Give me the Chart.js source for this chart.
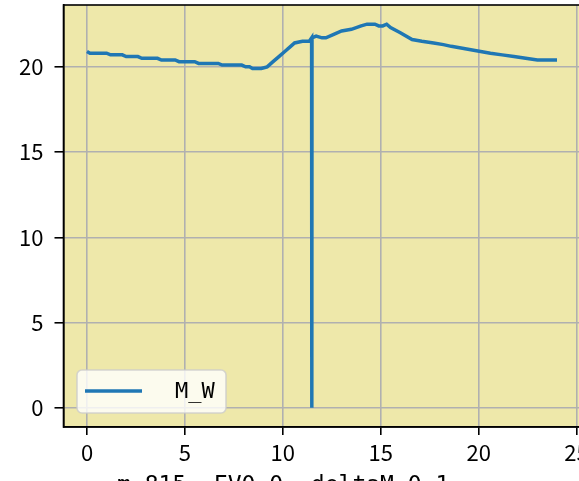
<!DOCTYPE html>
<html>
<head>
<meta charset="utf-8">
<script src="https://cdn.jsdelivr.net/npm/chart.js@4.4.0/dist/chart.umd.min.js"></script>
<style>
html,body{margin:0;padding:0;background:#fff;overflow:hidden;width:579px;height:481px;}
canvas{display:block;}
</style>
</head>
<body>
<canvas id="c" width="584" height="500"></canvas>
<script>
// Data
const hours = [0, 0.15, 1.0, 1.2, 1.8, 2.0, 2.6, 2.8, 3.6, 3.8,
  4.5, 4.7, 5.5, 5.7, 6.7, 6.9, 7.9, 8.1, 8.3, 8.45,
  8.9, 9.2, 9.5, 9.8, 10.1, 10.4, 10.6, 11.0, 11.35, 11.47,
  11.48, 11.49, 11.7, 12.0, 12.2, 12.6, 13.0, 13.5, 14.0, 14.3,
  14.7, 14.9, 15.1, 15.3, 15.5, 16.0, 16.6, 17.1, 17.7, 18.2,
  18.6, 19.1, 19.6, 20.1, 20.6, 21.2, 21.8, 22.4, 23.0, 24.0];
const mwValues = [20.9, 20.8, 20.8, 20.7, 20.7, 20.6, 20.6, 20.5, 20.5, 20.4,
  20.4, 20.3, 20.3, 20.2, 20.2, 20.1, 20.1, 20.0, 20.0, 19.9,
  19.9, 20.0, 20.3, 20.6, 20.9, 21.2, 21.4, 21.5, 21.5, 21.7,
  0, 21.7, 21.8, 21.7, 21.7, 21.9, 22.1, 22.2, 22.4, 22.5,
  22.5, 22.4, 22.4, 22.5, 22.3, 22.0, 21.6, 21.5, 21.4, 21.3,
  21.2, 21.1, 21.0, 20.9, 20.8, 20.7, 20.6, 20.5, 20.4, 20.4];
const xTicks = [0, 5, 10, 15, 20, 25];
const yTicks = [0, 5, 10, 15, 20];
const seriesLabel = 'M_W';
const xTitle = 'm=815, EV0=0, deltaM=0.1';

const FONT = '"Noto Sans CJK JP", "DejaVu Sans", sans-serif';
const MONO = '"DejaVu Sans Mono", monospace';

const bgPlugin = {
  id: 'bg',
  beforeDraw(chart) {
    const {ctx, chartArea: a} = chart;
    ctx.save();
    ctx.fillStyle = '#ffffff';
    ctx.fillRect(0, 0, chart.width, chart.height);
    ctx.fillStyle = '#eee8aa';
    ctx.fillRect(a.left, a.top, a.right - a.left, a.bottom - a.top);
    ctx.restore();
  },
  afterDraw(chart) {
    const {ctx, chartArea: a} = chart;
    ctx.save();
    ctx.strokeStyle = '#000';
    ctx.lineWidth = 1.6;
    ctx.strokeRect(a.left, a.top, a.right - a.left, a.bottom - a.top);
    // legend
    const lx = 77, ly = 370, lw = 149, lh = 43;
    ctx.beginPath();
    ctx.roundRect(lx, ly, lw, lh, 5);
    ctx.fillStyle = 'rgba(255,255,255,0.8)';
    ctx.fill();
    ctx.strokeStyle = 'rgba(204,204,204,0.8)';
    ctx.lineWidth = 1.6;
    ctx.stroke();
    ctx.beginPath();
    ctx.moveTo(85, 391);
    ctx.lineTo(142, 391);
    ctx.strokeStyle = '#1f77b4';
    ctx.lineWidth = 3.5;
    ctx.stroke();
    ctx.fillStyle = '#000';
    ctx.font = '22px ' + MONO;
    ctx.textBaseline = 'middle';
    ctx.textAlign = 'left';
    ctx.fillText(seriesLabel, 175, 392);
    ctx.textBaseline = 'alphabetic';
    ctx.font = '23px ' + MONO;
    ctx.fillText(xTitle, 117, 492);
    ctx.restore();
  }
};

new Chart(document.getElementById('c'), {
  type: 'line',
  data: {
    datasets: [{
      label: seriesLabel,
      data: hours.map((h, i) => ({x: h, y: mwValues[i]})),
      borderColor: '#1f77b4',
      borderWidth: 3.5,
      pointRadius: 0,
      tension: 0,
      fill: false
    }]
  },
  options: {
    responsive: false,
    animation: false,
    devicePixelRatio: 1,
    layout: {padding: {top: 5, left: 0, right: 3.5, bottom: 0}},
    plugins: {legend: {display: false}, tooltip: {enabled: false}},
    scales: {
      x: {
        type: 'linear',
        min: -1.2,
        max: 25.2,
        afterBuildTicks: s => { s.ticks = xTicks.map(v => ({value: v})); },
        afterFit: s => { s.height = 73; s.paddingLeft = 0; s.paddingRight = 0; },
        ticks: {color: '#000', font: {family: FONT, size: 22}, padding: 4, maxRotation: 0},
        grid: {color: '#b0b0b0', lineWidth: 1.6, tickColor: '#000', tickLength: 8, tickWidth: 1.6},
        border: {color: '#000', width: 1.6}
      },
      y: {
        type: 'linear',
        min: -1.125,
        max: 23.625,
        afterBuildTicks: s => { s.ticks = yTicks.map(v => ({value: v})); },
        afterFit: s => { s.width = 63.5; s.paddingTop = 0; s.paddingBottom = 0; },
        ticks: {color: '#000', font: {family: FONT, size: 22}, padding: 11},
        grid: {color: '#b0b0b0', lineWidth: 1.6, tickColor: '#000', tickLength: 9, tickWidth: 1.6},
        border: {color: '#000', width: 1.6}
      }
    }
  },
  plugins: [bgPlugin]
});
</script>
</body>
</html>
